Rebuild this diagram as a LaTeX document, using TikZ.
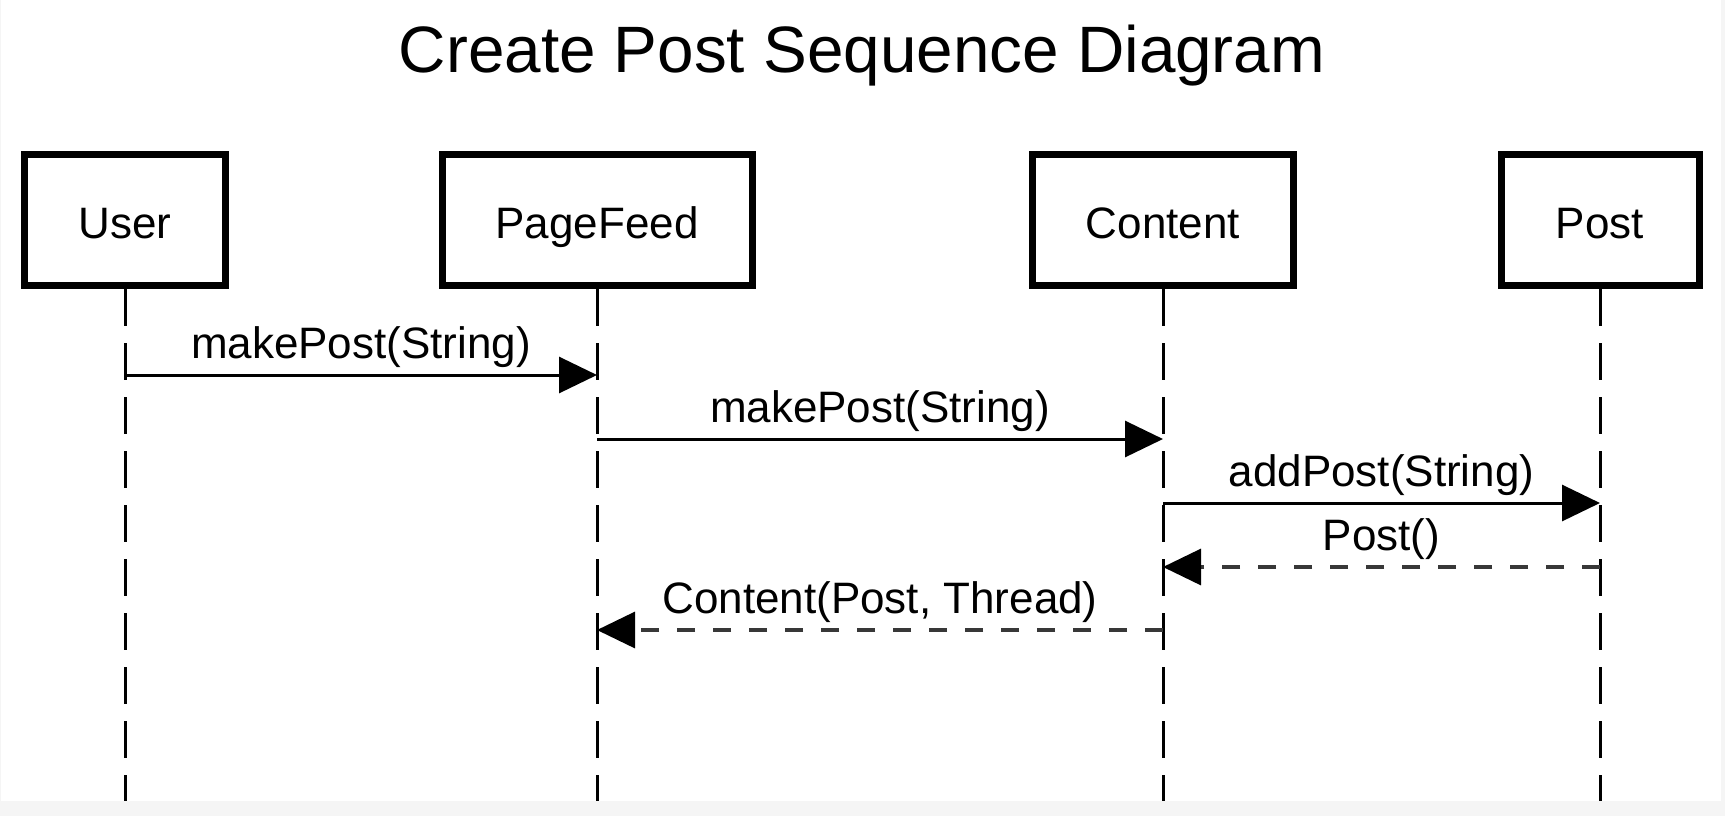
\documentclass[tikz,border=0pt]{standalone}
\usepackage{fontspec}
\setmainfont{Liberation Sans}
\usetikzlibrary{arrows.meta}
\definecolor{bggray}{HTML}{F5F5F5}
\definecolor{dashgray}{HTML}{383838}
\begin{document}
\begin{tikzpicture}[x=0.5pt,y=-0.5pt,
  actor/.style={draw=black, line width=3.5pt, minimum height=65.5pt, inner sep=0pt,
    font=\fontsize{22}{26}\selectfont, text height=18.75pt, text depth=0pt},
  lifeline/.style={draw=black, line width=1.5pt, dash pattern=on 18.5pt off 8.5pt},
  msg/.style={draw=black, line width=1.5pt, -{Triangle[length=19pt,width=18pt]}},
  reply/.style={draw=dashgray, line width=1.6pt, dash pattern=on 9pt off 9pt,
    -{Triangle[length=19pt,width=18pt,color=black]}},
  msglabel/.style={font=\fontsize{22}{26}\selectfont, anchor=base, inner sep=0pt, yshift=8.5pt},
  diagtitle/.style={font=\fontsize{32.8}{38}\selectfont, anchor=base, inner sep=0pt}
]
\fill[bggray] (0,0) rectangle (1725,816);
\fill[white] (1,0) rectangle (1721,801);
\useasboundingbox (0,0) rectangle (1725,816);

\node[diagtitle] (title) at (862,72) {Create Post Sequence Diagram};

\node[actor, minimum width=100.5pt] (user) at (125,220) {User};
\node[actor, minimum width=155pt] (feed) at (597,220) {PageFeed};
\node[actor, minimum width=130.5pt] (content) at (1163,220) {Content};
\node[actor, minimum width=99pt] (post) at (1600,220) {Post};

\coordinate (bottom) at (0,801);
\coordinate (m1) at (0,375);
\coordinate (m2) at (0,439);
\coordinate (m3) at (0,503);
\coordinate (m4) at (0,567);
\coordinate (m5) at (0,630);

\draw[lifeline] (user.south) -- (user |- bottom);
\draw[lifeline] (feed.south) -- (feed |- bottom);
\draw[lifeline] (content.south) -- (content |- bottom);
\draw[lifeline] (post.south) -- (post |- bottom);

\draw[msg] (user |- m1) -- node[msglabel] {makePost(String)} (feed |- m1);
\draw[msg] (feed |- m2) -- node[msglabel] {makePost(String)} (content |- m2);
\draw[msg] (content |- m3) -- node[msglabel] {addPost(String)} (post |- m3);
\draw[reply] (post |- m4) -- node[msglabel] {Post()} (content |- m4);
\draw[reply] (content |- m5) -- node[msglabel] {Content(Post, Thread)} (feed |- m5);
\end{tikzpicture}
\end{document}
